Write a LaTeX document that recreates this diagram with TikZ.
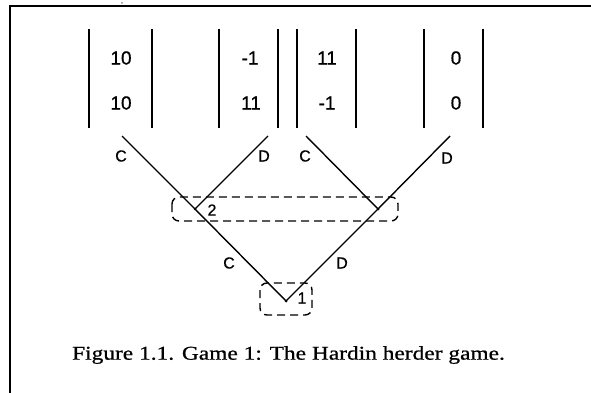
\documentclass[tikz,border=0pt]{standalone}
\usepackage{fontspec}
\setmainfont{Liberation Serif}
\newfontfamily\numfont[FakeBold=0.6]{Liberation Sans}
\newfontfamily\capfont[FakeStretch=1.2,FakeBold=0.8]{Liberation Serif}
\begin{document}
\begin{tikzpicture}[x=1pt,y=-1pt,
  frameline/.style={line width=2pt},
  bracketline/.style={line width=1.8pt},
  edge/.style={line width=1.4pt},
  infoset/.style={dashed,dash pattern=on 8pt off 5pt,line width=1.4pt,rounded corners=7pt},
  payoff/.style={font=\numfont\fontsize{19}{22}\selectfont,inner sep=0pt,align=center},
  movelabel/.style={font=\numfont\fontsize{16}{18}\selectfont,inner sep=0pt},
  playerlabel/.style={font=\numfont\fontsize{16}{18}\selectfont,inner sep=0pt},
  dot/.style={circle,fill=black,inner sep=0pt,minimum size=3pt}]
\useasboundingbox (0,0) rectangle (591,393);
\fill[white] (0,0) rectangle (591,393);
% frame
\draw[frameline] (591,6) -- (10,6) -- (10,393);
\node[font=\fontsize{8}{8}\selectfont,inner sep=1pt,anchor=north] (mark) at (122,1) {,};
% payoff columns
\node[payoff] (p1a) at (121,58) {10};
\node[payoff] (p1b) at (121,103) {10};
\node[payoff] (p2a) at (250,58) {-1};
\node[payoff] (p2b) at (251,103) {11};
\node[payoff] (p3a) at (327,58) {11};
\node[payoff] (p3b) at (327,103) {-1};
\node[payoff] (p4a) at (456,58) {0};
\node[payoff] (p4b) at (456,103) {0};
\foreach \x in {89,152,219,278,297,356,424,483}
  \draw[bracketline] (\x,29) -- (\x,128);
% game tree
\coordinate (c1) at (122,136);
\coordinate (d1) at (268,136);
\coordinate (c2) at (306,136);
\coordinate (d2) at (450,136);
\node[dot] (n2) at (195,209) {};
\node[dot] (n3) at (378,209) {};
\node[dot] (n1) at (286,301) {};
\draw[edge] (c1) -- (n2.center) -- (d1);
\draw[edge] (c2) -- (n3.center) -- (d2);
\draw[edge] (n2.center) -- (n1.center) -- (n3.center);
% labels
\node[movelabel] (lc1) at (121,156) {C};
\node[movelabel] (ld1) at (264,156) {D};
\node[movelabel] (lc2) at (305,156) {C};
\node[movelabel] (ld2) at (447,158) {D};
\node[movelabel] (lc3) at (229,263) {C};
\node[movelabel] (ld3) at (342,263) {D};
\node[playerlabel] (l2) at (212,210) {2};
\node[playerlabel] (l1) at (302,298) {1};
% information sets
\draw[infoset] (172,197) rectangle (398,221);
\draw[infoset] (260,283) rectangle (312,315);
% caption
\node[font=\capfont\fontsize{19.5}{22}\selectfont,inner sep=0pt] (cap) at (288.5,355) {Figure 1.1. Game 1: The Hardin herder game.};
\end{tikzpicture}
\end{document}
